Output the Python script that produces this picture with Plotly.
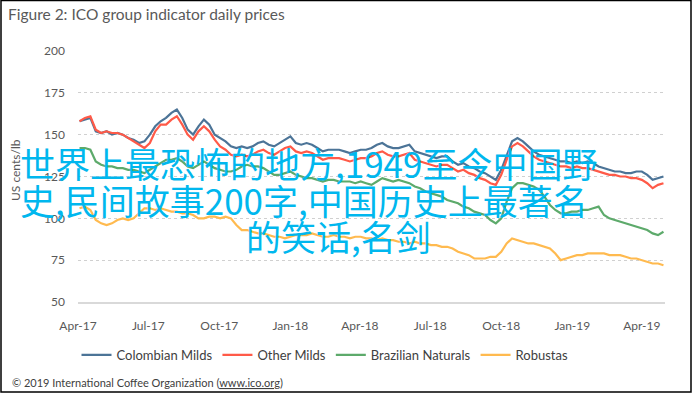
import pandas as pd
import plotly.graph_objects as go

# ---- data (US cents/lb, weekly readings) ----
dates = pd.date_range("2017-04-03", periods=109, freq="7D")

colombian_milds = [
    158, 159, 160, 152, 151, 152, 150, 151, 150, 148,
    147, 145, 146, 150, 155, 158, 160, 163, 165, 160,
    153, 150, 155, 159, 156, 150, 148, 146, 143, 142,
    143, 142, 143, 145, 146, 144, 143, 145, 147, 149,
    145, 144, 145, 144, 142, 140, 141, 141, 141, 140,
    139, 140, 141, 141, 142, 144, 145, 143, 142, 142,
    143, 144, 140, 139, 138, 137, 136, 137, 137, 134,
    132, 133, 131, 130, 128, 127, 125, 123, 129, 138,
    146, 148, 146, 143, 140, 138, 137, 136, 135, 134,
    134, 133, 134, 133, 134, 133, 131, 130, 129, 128,
    128, 127, 127, 128, 128, 126, 123, 124, 125]

other_milds = [
    158, 160, 161, 153, 151, 152, 151, 151, 150, 148,
    146, 144, 142, 145, 152, 156, 156, 159, 161, 156,
    150, 147, 152, 155, 152, 147, 143, 141, 138, 137,
    138, 137, 138, 140, 141, 139, 138, 140, 142, 143,
    140, 139, 140, 139, 137, 135, 136, 136, 136, 135,
    134, 135, 136, 136, 137, 139, 140, 138, 137, 137,
    138, 139, 135, 134, 133, 132, 131, 132, 132, 130,
    128, 129, 127, 126, 124, 123, 121, 120, 126, 135,
    143, 145, 143, 140, 137, 135, 134, 133, 132, 131,
    131, 130, 131, 130, 130, 129, 128, 127, 126, 126,
    125, 125, 124, 124, 123, 121, 118, 120, 121]

brazilian_naturals = [
    142, 142, 141, 134, 132, 131, 131, 130, 130, 129,
    129, 128, 127, 129, 131, 133, 135, 135, 136, 134,
    131, 130, 132, 134, 132, 130, 129, 128, 128, 129,
    131, 132, 131, 131, 130, 128, 126, 126, 127, 128,
    126, 125, 124, 124, 123, 122, 123, 123, 122, 122,
    122, 121, 122, 121, 120, 122, 124, 123, 122, 123,
    122, 121, 119, 118, 116, 115, 114, 113, 111, 110,
    109, 107, 106, 104, 103, 102, 99, 97, 100, 110,
    118, 121, 121, 120, 119, 117, 113, 108, 105, 103,
    103, 104, 104, 105, 105, 106, 107, 102, 100, 99,
    98, 97, 96, 95, 94, 93, 91, 90, 92]

robustas = [
    106, 107, 105, 99, 97, 96, 97, 99, 100, 99,
    100, 103, 106, 106, 105, 106, 105, 104, 104, 103,
    103, 102, 100, 100, 101, 101, 100, 101, 100, 96,
    93, 93, 92, 91, 91, 90, 89, 89, 88, 89,
    90, 90, 90, 91, 90, 89, 89, 90, 89, 89,
    88, 89, 89, 88, 88, 87, 88, 87, 87, 86,
    86, 85, 86, 85, 85, 84, 84, 83, 83, 82,
    80, 79, 78, 76, 76, 76, 77, 77, 80, 85,
    88, 87, 86, 85, 85, 84, 83, 82, 79, 75,
    76, 77, 78, 78, 79, 79, 79, 79, 78, 78,
    78, 77, 76, 76, 75, 74, 73, 73, 72]

series_names = ["Colombian Milds", "Other Milds", "Brazilian Naturals", "Robustas"]
series_colors = ["#4C7497", "#FF5A48", "#5DAA6B", "#FFBA4F"]

tick_dates = ["2017-04-01", "2017-07-01", "2017-10-01", "2018-01-01", "2018-04-01",
              "2018-07-01", "2018-10-01", "2019-01-01", "2019-04-01"]
tick_labels = ["Apr-17", "Jul-17", "Oct-17", "Jan-18", "Apr-18",
               "Jul-18", "Oct-18", "Jan-19", "Apr-19"]

watermark_lines = ["世界上最恐怖的地方,1949至今中国野",
                   "史,民间故事200字,中国历史上最著名",
                   "的笑话,名剑"]

# ---- figure ----
W, H = 695, 394
L, R, T, B = 78, 665, 51, 302   # plot area in pixels


def px(x):
    return (x - L) / (R - L)


def py(y):
    return (B - y) / (B - T)


fig = go.Figure()
for name, vals, col in zip(series_names,
                           [colombian_milds, other_milds, brazilian_naturals, robustas],
                           series_colors):
    fig.add_trace(go.Scatter(x=dates, y=vals, name=name, mode="lines",
                             line=dict(color=col, width=2.2)))

font_main = "Lato, 'Open Sans', sans-serif"

fig.update_layout(
    width=W, height=H,
    margin=dict(l=L, r=W - R, t=T, b=H - B, pad=0, autoexpand=False),
    paper_bgcolor="white", plot_bgcolor="white",
    font=dict(family=font_main, color="#595959", size=12),
    showlegend=True,
    legend=dict(orientation="h", x=px(325), xanchor="center", y=py(355), yanchor="middle",
                font=dict(size=13, color="#404040"), itemwidth=30,
                bgcolor="rgba(0,0,0,0)", tracegroupgap=0),
    xaxis=dict(range=["2017-04-01", "2019-05-01"], tickvals=tick_dates, ticktext=tick_labels,
               showgrid=False, zeroline=False, showline=True, linecolor="#D9D9D9",
               linewidth=1.5, ticks="", ticklabelstandoff=12,
               tickfont=dict(size=12, color="#595959")),
    yaxis=dict(range=[50, 200], dtick=25, tick0=50, showgrid=True, gridcolor="#D0D0D0",
               griddash="dot", gridwidth=1.2, zeroline=False, showline=False, ticks="",
               ticklabelstandoff=12, tickfont=dict(size=12, color="#595959")),
)

annotations = [
    dict(text="Figure 2: ICO group indicator daily prices", x=px(6), y=py(14),
         xanchor="left", yanchor="middle", showarrow=False,
         font=dict(size=15.5, color="#595959", family=font_main)),
    dict(text="US cents/lb", x=px(15), y=py(170), textangle=-90, xanchor="center",
         yanchor="middle", showarrow=False, font=dict(size=12, color="#595959", family=font_main)),
    dict(text="© 2019 International Coffee Organization (<u>www.ico.org</u>)", x=px(10), y=py(382),
         xanchor="left", yanchor="middle", showarrow=False,
         font=dict(size=11, color="#404040", family=font_main)),
]
wm_pos = [(18, 162), (18, 200), (244, 235)]
for txt, (wx, wy) in zip(watermark_lines, wm_pos):
    annotations.append(dict(text=txt, x=px(wx), y=py(wy), xanchor="left", yanchor="middle",
                            showarrow=False,
                            font=dict(size=35, color="#00B7EE", family="Noto Sans CJK SC")))
for a in annotations:
    a["xref"] = "paper"
    a["yref"] = "paper"
fig.update_layout(annotations=annotations)

fig.add_shape(type="rect", xref="paper", yref="paper", x0=px(1), x1=px(691), y0=py(392), y1=py(0.5),
              line=dict(color="black", width=1.5), fillcolor="rgba(0,0,0,0)", layer="above")

fig.write_html("out.html", config={"displayModeBar": False},
               post_script="document.body.style.margin='0';document.body.style.overflow='hidden';")
